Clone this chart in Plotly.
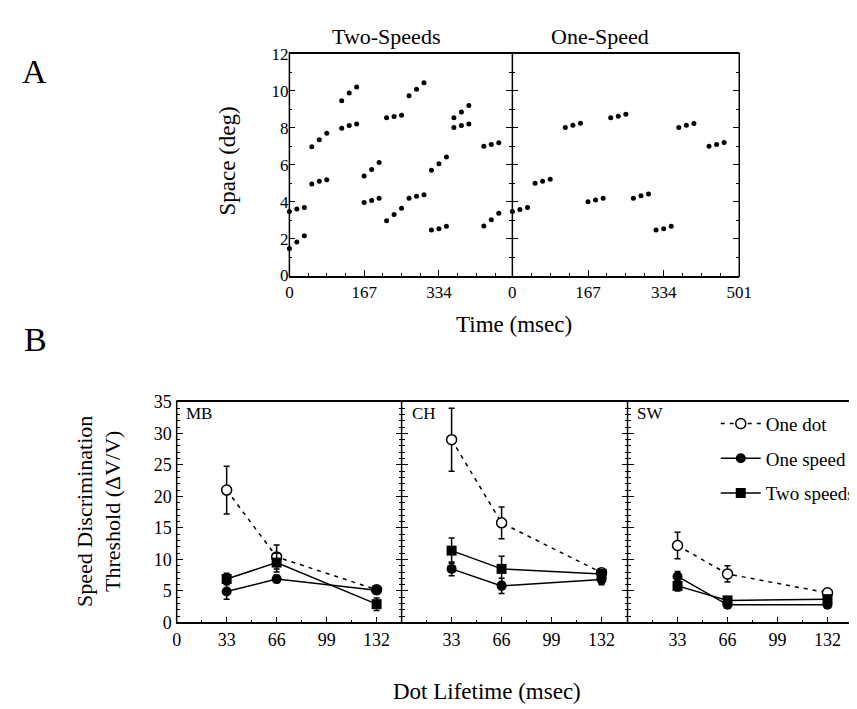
import plotly.graph_objects as go

W, H = 857, 709
FONT = "Liberation Serif"

# ---------------- Panel A data (time in msec, space in deg) ----------------
frame_times = [0, 16.7, 33.4, 50.1, 66.8, 83.5, 116.9, 133.6, 150.3,
               167.0, 183.7, 200.4, 217.1, 233.8, 250.5, 267.2, 283.9, 300.6,
               317.3, 334.0, 350.7, 367.4, 384.1, 400.8, 434.2, 450.9, 467.6]

two_speed_dot1 = [1.46, 1.82, 2.16, 4.96, 5.10, 5.19, 7.98, 8.12, 8.21,
                  3.96, 4.07, 4.19, 2.96, 3.30, 3.65, 4.18, 4.30, 4.37,
                  2.46, 2.54, 2.67, 8.02, 8.12, 8.21, 2.68, 3.02, 3.37]
two_speed_dot2 = [3.47, 3.60, 3.68, 6.98, 7.35, 7.70, 9.47, 9.88, 10.21,
                  5.39, 5.74, 6.12, 8.54, 8.61, 8.68, 9.74, 10.09, 10.44,
                  5.70, 6.05, 6.42, 8.54, 8.86, 9.21, 7.00, 7.10, 7.19]
one_speed_dot = [3.47, 3.58, 3.68, 5.00, 5.10, 5.21, 8.02, 8.14, 8.25,
                 4.00, 4.09, 4.19, 8.54, 8.63, 8.74, 4.19, 4.32, 4.41,
                 2.46, 2.54, 2.67, 8.02, 8.14, 8.23, 7.00, 7.10, 7.21]
time_ticks = [0, 167, 334, 501]
space_ticks = [0, 2, 4, 6, 8, 10, 12]

# ---------------- Panel B data ----------------
lifetimes = [33, 66, 132]
lifetime_ticks = [0, 33, 66, 99, 132]
threshold_ticks = [0, 5, 10, 15, 20, 25, 30, 35]
subjects = ["MB", "CH", "SW"]
one_dot = {"MB": [21.0, 10.4, 5.2], "CH": [29.0, 15.8, 7.9], "SW": [12.2, 7.7, 4.7]}
one_dot_err = {"MB": [3.8, 1.9, 0.5], "CH": [5.0, 2.5, 0.5], "SW": [2.1, 1.3, 0.6]}
one_spd = {"MB": [4.9, 6.9, 5.1], "CH": [8.5, 5.8, 6.8], "SW": [7.3, 2.8, 2.8]}
one_spd_err = {"MB": [1.2, 0.6, 0.6], "CH": [1.1, 1.2, 0.8], "SW": [0.8, 0.5, 0.5]}
two_spd = {"MB": [6.9, 9.5, 2.9], "CH": [11.4, 8.5, 7.7], "SW": [5.8, 3.5, 3.7]}
two_spd_err = {"MB": [0.9, 1.5, 1.0], "CH": [2.0, 2.0, 0.5], "SW": [0.8, 0.5, 0.5]}

fig = go.Figure()


def px_x(p):
    return p / W


def px_y(p):
    return 1 - p / H


# ---------- Panel A traces ----------
for xa, ya, ys_list in [("x", "y", [two_speed_dot1, two_speed_dot2]),
                        ("x2", "y2", [one_speed_dot])]:
    for ys in ys_list:
        fig.add_trace(go.Scatter(x=frame_times, y=ys, mode="markers", xaxis=xa, yaxis=ya,
                                 marker=dict(color="black", size=5), showlegend=False,
                                 cliponaxis=False))

# ---------- Panel B traces ----------
axes_B = [("x3", "y3"), ("x4", "y4"), ("x5", "y5")]
for (xa, ya), s in zip(axes_B, subjects):
    show = (s == "SW")
    fig.add_trace(go.Scatter(x=lifetimes, y=one_dot[s], xaxis=xa, yaxis=ya, mode="lines+markers",
                             name="One dot", legendgroup="a", showlegend=show,
                             line=dict(color="black", width=1.5, dash="4px,5px"),
                             marker=dict(symbol="circle", size=10, color="white",
                                         line=dict(color="black", width=1.5)),
                             error_y=dict(type="data", array=one_dot_err[s], color="black",
                                          thickness=1.5, width=3),
                             cliponaxis=False))
    fig.add_trace(go.Scatter(x=lifetimes, y=one_spd[s], xaxis=xa, yaxis=ya, mode="lines+markers",
                             name="One speed", legendgroup="b", showlegend=show,
                             line=dict(color="black", width=1.5),
                             marker=dict(symbol="circle", size=10, color="black"),
                             error_y=dict(type="data", array=one_spd_err[s], color="black",
                                          thickness=1.5, width=3),
                             cliponaxis=False))
    fig.add_trace(go.Scatter(x=lifetimes, y=two_spd[s], xaxis=xa, yaxis=ya, mode="lines+markers",
                             name="Two speeds", legendgroup="c", showlegend=show,
                             line=dict(color="black", width=1.5),
                             marker=dict(symbol="square", size=10, color="black"),
                             error_y=dict(type="data", array=two_spd_err[s], color="black",
                                          thickness=1.5, width=3),
                             cliponaxis=False))

xcommon = dict(showline=True, linecolor="black", linewidth=1.5, showgrid=False, zeroline=False,
               ticks="inside", tickcolor="black", tickwidth=1.2, color="black", mirror=True)
ycommon = dict(showline=False, showgrid=False, zeroline=False,
               ticks="inside", tickcolor="black", tickwidth=1.2, color="black")

minor_time = dict(tickvals=[41.75, 83.5, 125.25, 208.75, 250.5, 292.25, 375.75, 417.5, 459.25],
                  ticks="inside", ticklen=3, tickcolor="black")

A_top, A_bot = 37, 265
A_x = [283, 510.5, 742]
B_top, B_bot = 395, 622
B_x = [168, 397.5, 628, 857]

# Panel A axes
fig.update_layout(
    xaxis=dict(domain=[px_x(A_x[0]), px_x(A_x[1])], range=[0, 498], anchor="y",
               tickvals=time_ticks[:3], ticklen=6, minor=minor_time,
               tickfont=dict(family=FONT, size=17), **xcommon),
    xaxis2=dict(domain=[px_x(A_x[1]), px_x(A_x[2])], range=[0, 501], anchor="y2",
                tickvals=time_ticks, ticklen=6, minor=minor_time,
                tickfont=dict(family=FONT, size=17), **xcommon),
    yaxis=dict(domain=[px_y(A_bot), px_y(A_top)], range=[0, 12], anchor="x",
               tickvals=space_ticks, ticklen=6, mirror="ticks",
               minor=dict(dtick=1, ticks="inside", ticklen=3, tickcolor="black"),
               tickfont=dict(family=FONT, size=17), **ycommon),
    yaxis2=dict(domain=[px_y(A_bot), px_y(A_top)], range=[0, 12], anchor="x2",
                tickvals=space_ticks, ticklen=6, showticklabels=False, mirror="ticks",
                minor=dict(dtick=1, ticks="inside", ticklen=3, tickcolor="black"),
                **ycommon),
)

# Panel B axes
for i, s in enumerate(subjects):
    n = i + 3
    x0, x1 = B_x[i], B_x[i + 1]
    xr = (x1 - x0) / (51.0 / 33.0)
    tv = lifetime_ticks if i == 0 else lifetime_ticks[1:]
    fig.layout[f"xaxis{n}"] = dict(domain=[px_x(x0), min(px_x(x1), 1.0)], range=[0, xr],
                                  anchor=f"y{n}", tickvals=tv, ticklen=6,
                                  minor=dict(tickvals=[16.5, 49.5, 82.5, 115.5, 148.5],
                                             ticks="inside", ticklen=3, tickcolor="black"),
                                  tickfont=dict(family=FONT, size=18), **xcommon)
    fig.layout[f"yaxis{n}"] = dict(domain=[px_y(B_bot), px_y(B_top)], range=[0, 35], anchor=f"x{n}",
                                  tickvals=threshold_ticks, ticklen=6,
                                  mirror=("ticks" if i < 2 else False),
                                  showticklabels=(i == 0), ticklabelstandoff=4,
                                  minor=dict(dtick=1, ticks="inside", ticklen=3, tickcolor="black"),
                                  tickfont=dict(family=FONT, size=18), **ycommon)

# vertical frame lines in paper coordinates (one per border so shared borders stay thin)
shapes = []
for xs, top, bot in [(A_x, A_top, A_bot), (B_x[:3], B_top, B_bot)]:
    for xp in xs:
        shapes.append(dict(type="line", xref="paper", yref="paper",
                           x0=px_x(xp), x1=px_x(xp), y0=px_y(bot + 1.5), y1=px_y(top - 1.5),
                           line=dict(color="black", width=1.5), layer="above"))

annots = [
    dict(text="A", x=px_x(23), y=px_y(55), font=dict(size=34)),
    dict(text="B", x=px_x(24), y=px_y(331), font=dict(size=34)),
    dict(text="Two-Speeds", x=px_x(382), y=px_y(19), font=dict(size=22)),
    dict(text="One-Speed", x=px_x(600), y=px_y(19), font=dict(size=22)),
    dict(text="Space (deg)", x=px_x(220), y=px_y(147), font=dict(size=23), textangle=-90),
    dict(text="Time (msec)", x=px_x(512), y=px_y(315), font=dict(size=23)),
    dict(text="Speed Discrimination<br>Threshold (\u0394V/V)", x=px_x(88), y=px_y(508),
         font=dict(size=22), textangle=-90),
    dict(text="Dot Lifetime (msec)", x=px_x(485), y=px_y(693), font=dict(size=23)),
    dict(text="MB", x=px_x(191), y=px_y(407), font=dict(size=17)),
    dict(text="CH", x=px_x(420), y=px_y(407), font=dict(size=17)),
    dict(text="SW", x=px_x(651), y=px_y(407), font=dict(size=17)),
]
for a in annots:
    a.update(xref="paper", yref="paper", showarrow=False, xanchor="center", yanchor="middle")
    a["font"].update(family=FONT, color="black")

fig.update_layout(
    annotations=annots, shapes=shapes,
    width=W, height=H, margin=dict(l=0, r=0, t=0, b=0),
    paper_bgcolor="white", plot_bgcolor="white",
    legend=dict(x=px_x(718), y=px_y(398), xanchor="left", yanchor="top",
                font=dict(family=FONT, size=19, color="black"), bgcolor="rgba(0,0,0,0)",
                tracegroupgap=7, itemwidth=40),
)

fig.write_html("out.html")
